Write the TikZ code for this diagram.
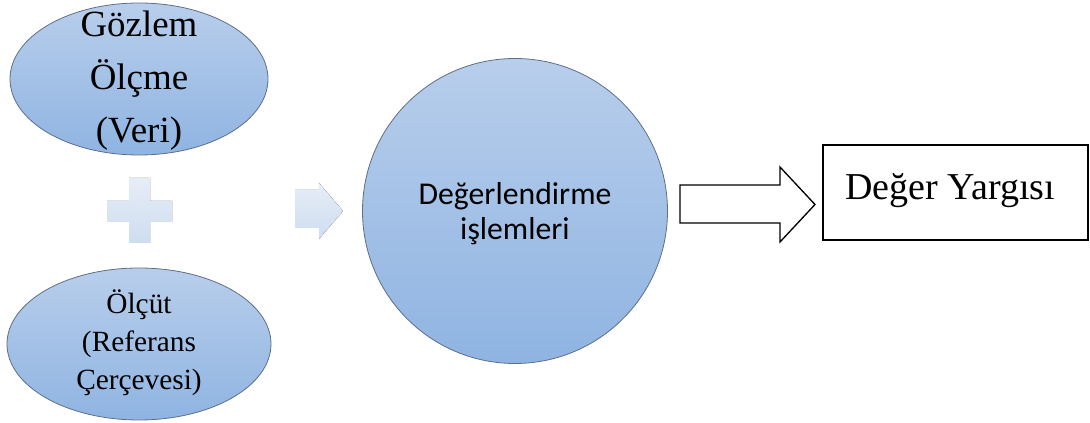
\documentclass[tikz,border=0pt]{standalone}
\usepackage{fontspec}
\setmainfont{Liberation Serif}
\newfontfamily\calibri{Carlito}
\usetikzlibrary{shapes.geometric}
\definecolor{blueT}{RGB}{184,206,235}
\definecolor{blueB}{RGB}{143,180,226}
\definecolor{edgec}{RGB}{95,110,135}
\definecolor{lightT}{RGB}{230,237,247}
\definecolor{lightB}{RGB}{206,221,240}
\begin{document}
\begin{tikzpicture}[x=0.75pt,y=-0.75pt,
  bubble/.style={ellipse, draw=edgec, line width=0.6pt, top color=blueT, bottom color=blueB, inner sep=0pt},
  bigcircle/.style={circle, draw=edgec, line width=0.6pt, top color=blueT, bottom color=blueB, inner sep=0pt, minimum size=228.75pt},
  soft/.style={top color=lightT, bottom color=lightB, draw=none},
  txt/.style={align=center, inner sep=0pt},
  resbox/.style={rectangle, draw=black, line width=1pt, minimum width=198.75pt, minimum height=71.25pt, inner sep=0pt}]
\useasboundingbox (0,0) rectangle (1090,423);
% top ellipse
\node[bubble, minimum width=193.5pt, minimum height=114pt] (obs) at (139,79) {};
\node[txt, font=\fontsize{27.7}{39.8}\selectfont] (obstxt) at (139,81) {Gözlem\\Ölçme\\(Veri)};
% plus sign
\fill[soft] (129,178) -- (150,178) -- (150,201) -- (172,201) -- (172,222) -- (150,222) -- (150,243) -- (129,243) -- (129,222) -- (107,222) -- (107,201) -- (129,201) -- cycle;
% bottom ellipse
\node[bubble, minimum width=198pt, minimum height=114pt] (crit) at (139,344) {};
\node[txt, font=\fontsize{22}{28.5}\selectfont] (crittxt) at (139,343) {Ölçüt\\(Referans\\Çerçevesi)};
% light arrow
\fill[soft] (295,190) -- (319,190) -- (319,183) -- (343,211) -- (319,239) -- (319,228) -- (295,228) -- cycle;
% circle
\node[bigcircle] (eval) at (515,211) {};
\node[txt, font=\calibri\fontsize{23.8}{26.3}\selectfont] (evaltxt) at (515,214) {Değerlendirme\\işlemleri};
% outline arrow
\draw[black, line width=1pt, fill=white] (680,185) -- (780,185) -- (780,167) -- (815,204.5) -- (780,242) -- (780,223) -- (680,223) -- cycle;
% result box
\node[resbox] (res) at (955.5,192.5) {};
\node[anchor=base west, inner sep=0pt, font=\fontsize{28.5}{34}\selectfont] (restxt) at (845,200) {Değer Yargısı};
\end{tikzpicture}
\end{document}
